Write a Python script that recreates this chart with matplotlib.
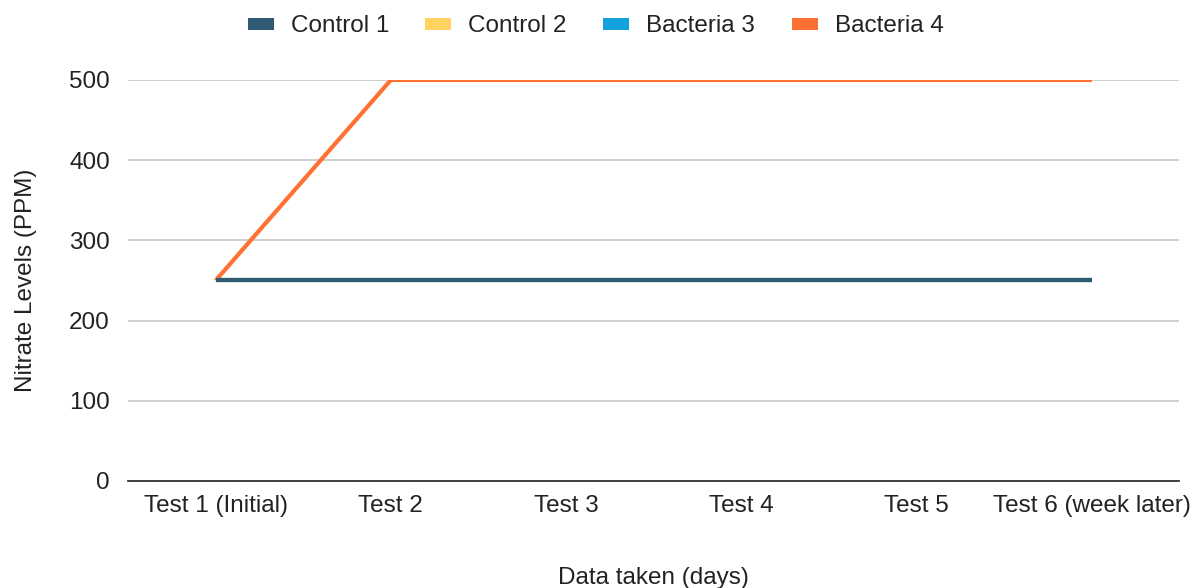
import matplotlib.pyplot as plt
from matplotlib.patches import Patch

plt.rcParams['font.family'] = ['Liberation Sans', 'DejaVu Sans']

# data
tests = ["Test 1 (Initial)", "Test 2", "Test 3", "Test 4", "Test 5", "Test 6 (week later)"]
control_1 = [250, 250, 250, 250, 250, 250]
control_2 = [250, 250, 250, 250, 250, 250]
bacteria_3 = [250, 250, 250, 250, 250, 250]
bacteria_4 = [250, 500, 500, 500, 500, 500]

names = ["Control 1", "Control 2", "Bacteria 3", "Bacteria 4"]
colors = ["#2e5a74", "#ffd45e", "#12a3dd", "#ff7033"]
series = [control_1, control_2, bacteria_3, bacteria_4]
zorders = [5, 3, 3.5, 4]

fs = 17.5

fig = plt.figure(figsize=(12.03, 5.88), dpi=100)
ax = fig.add_axes([0.1064, 0.182, 0.874, 0.682])

x = list(range(len(tests)))
for name, vals, col, z in zip(names, series, colors, zorders):
    ax.plot(x, vals, color=col, lw=3, label=name, zorder=z, solid_capstyle='butt')

ax.set_xlim(-0.5, 5.5)
ax.set_ylim(0, 500)
ax.set_yticks([0, 100, 200, 300, 400, 500])
ax.set_xticks(x)
ax.set_xticklabels(tests)
ax.grid(axis='y', color='#cccccc', lw=1.3)
ax.set_axisbelow(True)
for s in ['top', 'right', 'left']:
    ax.spines[s].set_visible(False)
ax.spines['bottom'].set_color('#333333')
ax.spines['bottom'].set_linewidth(1.3)
ax.spines['bottom'].set_zorder(2)
ax.tick_params(axis='both', length=0, labelsize=fs, colors='#222222')
ax.tick_params(axis='x', pad=10)
ax.tick_params(axis='y', pad=13)

ax.set_xlabel("Data taken (days)", fontsize=fs, color='#222222', labelpad=36)
ax.set_ylabel("Nitrate Levels (PPM)", fontsize=fs, color='#222222', labelpad=23)

handles = [Patch(facecolor=c, edgecolor='none') for c in colors]
fig.legend(handles, names, loc='center', bbox_to_anchor=(0.495, 0.955), ncol=4,
           frameon=False, fontsize=fs, handlelength=1.07, handleheight=0.4,
           columnspacing=1.5, handletextpad=0.7, labelcolor='#222222')

fig.savefig("out.png", dpi=100)
